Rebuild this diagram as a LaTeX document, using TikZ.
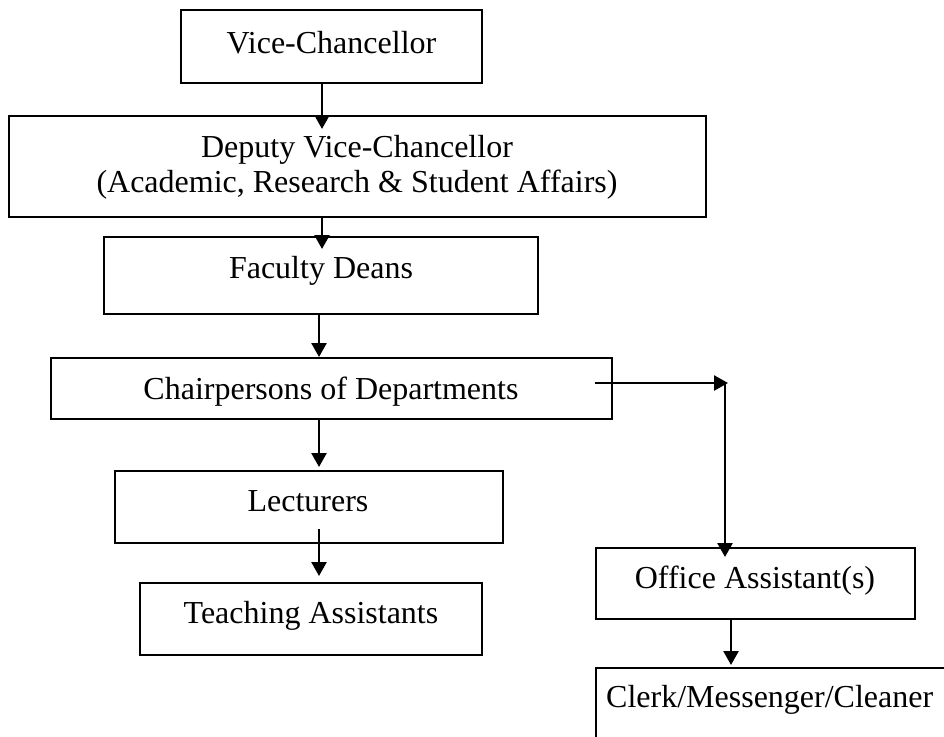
\documentclass[tikz,border=0pt]{standalone}
\usepackage{fontspec}
\setmainfont{Liberation Serif}
\usetikzlibrary{arrows.meta}
\begin{document}
\begin{tikzpicture}[x=1pt,y=-1pt,
  box/.style={draw=black,line width=2pt,rectangle,inner sep=0pt},
  lbl/.style={inner sep=0pt,font=\fontsize{32}{35}\selectfont,anchor=base},
  conn/.style={line width=2.6pt,-{Triangle[width=15pt,length=14pt]}},
  plain/.style={line width=2.6pt}]
\useasboundingbox[fill=white] (0,0) rectangle (944,736);
\clip (0,0) rectangle (944,736);
% boxes
\node[box,minimum width=301pt,minimum height=73pt] (vc) at (331.5,46.5) {};
\node[box,minimum width=697pt,minimum height=101pt] (dep) at (357.5,166.5) {};
\node[box,minimum width=434pt,minimum height=77pt] (fac) at (321,275.5) {};
\node[box,minimum width=561pt,minimum height=61pt] (chair) at (331.5,388.5) {};
\node[box,minimum width=388pt,minimum height=72pt] (lect) at (309,507) {};
\node[box,minimum width=342pt,minimum height=72pt] (ta) at (311,619) {};
\node[box,minimum width=319pt,minimum height=71pt] (off) at (755.5,583.5) {};
\node[box,minimum width=400pt,minimum height=120pt] (clerk) at (796,728) {};
% texts
\node[lbl] (tvc) at (331.5,53) {Vice-Chancellor};
\node[lbl] (tdep1) at (357,157) {Deputy Vice-Chancellor};
\node[lbl] (tdep2) at (357,192) {(Academic, Research \& Student Affairs)};
\node[lbl] (tfac) at (321,278) {Faculty Deans};
\node[lbl] (tchair) at (331,399) {Chairpersons of Departments};
\node[lbl] (tlect) at (308,511) {Lecturers};
\node[lbl] (tta) at (311,623) {Teaching Assistants};
\node[lbl] (toff) at (755,588) {Office Assistant(s)};
\node[lbl,anchor=base west] (tclerk) at (606,707) {Clerk/Messenger/Cleaner};
% connector coordinates
\coordinate (a1) at (322,0);
\coordinate (a2) at (319,0);
\coordinate (hs) at (595,383);
\coordinate (he) at (728,383);
\coordinate (vx) at (725,383);
\coordinate (a3) at (731,0);
% connectors
\draw[conn,shorten >=-14pt] (vc.south -| a1) -- (dep.north -| a1);
\draw[conn,shorten >=-13pt] (dep.south -| a1) -- (fac.north -| a1);
\draw[conn] (fac.south -| a2) -- (chair.north -| a2);
\draw[conn,shorten >=3pt] (chair.south -| a2) -- (lect.north -| a2);
\draw[conn,shorten >=6pt] (lect.south -| a2) ++(0,-15) -- (ta.north -| a2);
\draw[conn] (hs) -- (he);
\draw[conn,shorten >=-10pt] (vx) -- (off.north -| vx);
\draw[conn,shorten >=2pt] (off.south -| a3) -- (clerk.north -| a3);
\end{tikzpicture}
\end{document}
